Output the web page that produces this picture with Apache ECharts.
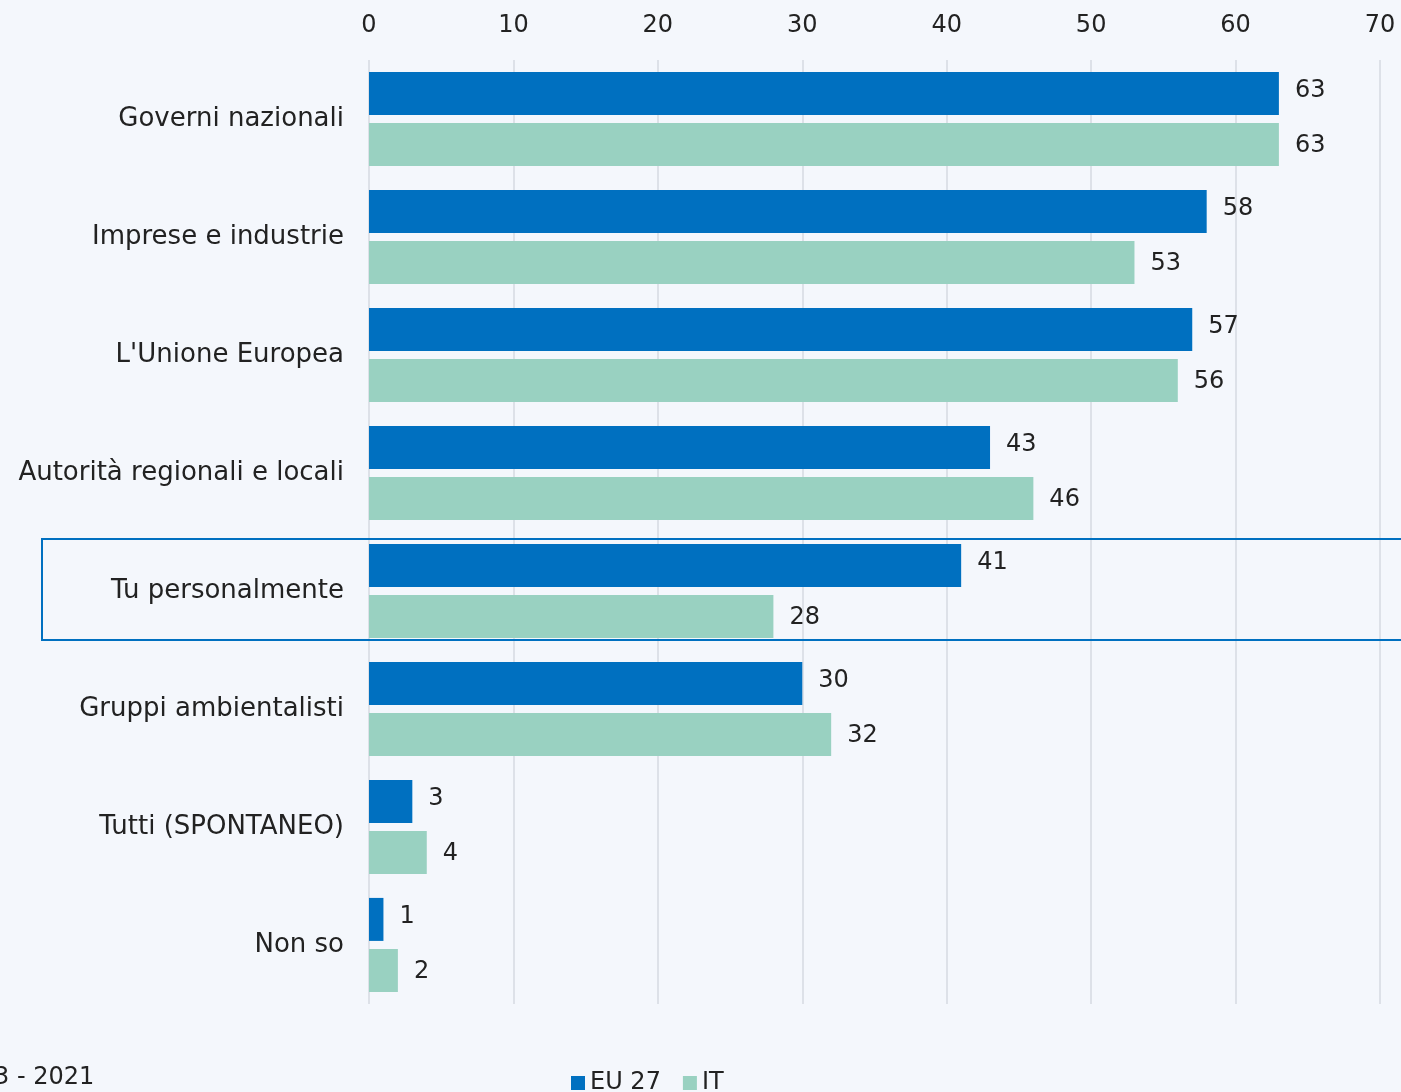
<!DOCTYPE html>
<html><head><meta charset="utf-8">
<script src="https://cdn.jsdelivr.net/npm/echarts@6/dist/echarts.min.js"></script>
<style>html,body{margin:0;padding:0;background:#F4F7FC;}#c{width:1401px;height:1092px;}</style>
</head><body><div id="c"></div>
<script>
const categories = ['Governi nazionali','Imprese e industrie',"L'Unione Europea",'Autorità regionali e locali','Tu personalmente','Gruppi ambientalisti','Tutti (SPONTANEO)','Non so'];
const eu27 = [63,58,57,43,41,30,3,1];
const it = [63,53,56,46,28,32,4,2];
const xTicks = [0,10,20,30,40,50,60,70];
const FONT = 'DejaVu Sans';
const chart = echarts.init(document.getElementById('c'));
chart.setOption({
  backgroundColor:'#F4F7FC',
  animation:false,
  textStyle:{fontFamily:FONT},
  grid:{left:369,right:21,top:60,bottom:88,containLabel:false},
  xAxis:{type:'value',position:'top',min:0,max:70,interval:10,
    axisLine:{show:false},axisTick:{show:false},
    axisLabel:{fontSize:24,color:'#222',margin:22,fontFamily:FONT,formatter:v=>xTicks.includes(v)?String(v):''},
    splitLine:{show:true,lineStyle:{color:'#DDE1E8',width:2}}},
  yAxis:{type:'category',inverse:true,data:categories,
    axisLabel:{fontSize:26,color:'#222',margin:25,fontFamily:FONT},
    axisLine:{show:false},axisTick:{show:false}},
  legend:{top:1066,left:566,itemWidth:14,itemHeight:14,itemGap:22,
    textStyle:{fontSize:24,color:'#222',fontFamily:FONT},icon:'rect',
    data:['EU 27','IT']},
  series:[
    {name:'EU 27',type:'bar',data:eu27,barWidth:43,barGap:'19%',
     itemStyle:{color:'#0070C0'},
     label:{show:true,position:'right',distance:16,fontSize:24,color:'#222',fontFamily:FONT,offset:[0,-3]}},
    {name:'IT',type:'bar',data:it,barWidth:43,
     itemStyle:{color:'#99D1C1'},
     label:{show:true,position:'right',distance:16,fontSize:24,color:'#222',fontFamily:FONT,offset:[0,1]}}
  ],
  graphic:[
    {type:'rect',shape:{x:42,y:539,width:1380,height:101},style:{fill:'none',stroke:'#0070C0',lineWidth:2},z:100},
    {type:'text',left:-6,top:1066,style:{text:'3 - 2021',fontSize:24,fill:'#222',fontFamily:FONT}}
  ]
});
</script></body></html>
